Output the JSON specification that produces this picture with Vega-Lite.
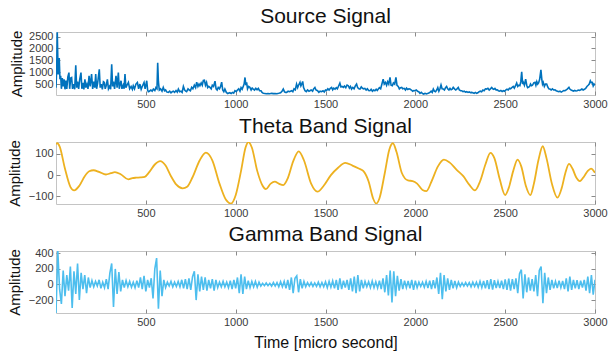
{
"$schema":"https://vega.github.io/schema/vega-lite/v6.json",
"padding":{"left":6,"top":5,"right":0,"bottom":4},
"background":"white",
"spacing":47,
"bounds":"flush",
"config":{
 "view":{"stroke":"#c4c4c4","strokeWidth":1},
 "axis":{"labelFont":"Liberation Sans","labelFontSize":11,"labelColor":"#3a3a3a","tickColor":"#8a8a8a","tickSize":-4,"labelPadding":7,"domain":false,"grid":false,"titleFont":"Liberation Sans","titleFontWeight":"normal","titleFontSize":15,"titleColor":"#111111","labelFlush":false,"labelOverlap":false,"labelBound":false,"format":"d"},
 "title":{"font":"Liberation Sans","fontSize":21,"fontWeight":"normal","color":"#111111","frame":"group","offset":2}
},
"datasets":{
"src":[{"t":0,"v":350},{"t":4,"v":1200},{"t":7,"v":2680},{"t":12,"v":900},{"t":18,"v":1600},{"t":22,"v":700},{"t":26,"v":850},{"t":30,"v":300},{"t":35,"v":750},{"t":40,"v":400},{"t":45,"v":700},{"t":50,"v":280},{"t":55,"v":650},{"t":60,"v":300},{"t":66,"v":800},{"t":72,"v":980},{"t":76,"v":300},{"t":82,"v":760},{"t":87,"v":780},{"t":92,"v":300},{"t":98,"v":500},{"t":104,"v":280},{"t":110,"v":1290},{"t":115,"v":350},{"t":120,"v":600},{"t":126,"v":300},{"t":132,"v":700},{"t":139,"v":980},{"t":144,"v":300},{"t":150,"v":550},{"t":155,"v":280},{"t":161,"v":700},{"t":166,"v":350},{"t":172,"v":500},{"t":178,"v":300},{"t":184,"v":850},{"t":190,"v":400},{"t":198,"v":920},{"t":204,"v":300},{"t":210,"v":600},{"t":216,"v":350},{"t":221,"v":920},{"t":226,"v":300},{"t":232,"v":550},{"t":241,"v":1120},{"t":246,"v":350},{"t":252,"v":500},{"t":258,"v":280},{"t":264,"v":600},{"t":269,"v":570},{"t":274,"v":300},{"t":280,"v":450},{"t":286,"v":700},{"t":292,"v":300},{"t":298,"v":400},{"t":304,"v":280},{"t":310,"v":1330},{"t":315,"v":400},{"t":320,"v":600},{"t":326,"v":300},{"t":334,"v":850},{"t":340,"v":350},{"t":347,"v":980},{"t":352,"v":300},{"t":357,"v":500},{"t":362,"v":640},{"t":367,"v":300},{"t":374,"v":450},{"t":379,"v":300},{"t":384,"v":920},{"t":389,"v":350},{"t":395,"v":450},{"t":403,"v":570},{"t":410,"v":300},{"t":418,"v":400},{"t":425,"v":280},{"t":430,"v":430},{"t":437,"v":300},{"t":445,"v":500},{"t":453,"v":570},{"t":460,"v":300},{"t":467,"v":500},{"t":474,"v":280},{"t":480,"v":400},{"t":490,"v":570},{"t":496,"v":300},{"t":505,"v":640},{"t":510,"v":250},{"t":514,"v":180},{"t":520,"v":200},{"t":528,"v":250},{"t":535,"v":200},{"t":542,"v":290},{"t":550,"v":230},{"t":556,"v":350},{"t":562,"v":300},{"t":566,"v":1400},{"t":570,"v":600},{"t":575,"v":250},{"t":582,"v":300},{"t":590,"v":200},{"t":597,"v":360},{"t":604,"v":220},{"t":610,"v":250},{"t":616,"v":170},{"t":625,"v":150},{"t":633,"v":200},{"t":640,"v":130},{"t":647,"v":180},{"t":653,"v":200},{"t":660,"v":150},{"t":668,"v":230},{"t":675,"v":160},{"t":681,"v":290},{"t":688,"v":180},{"t":695,"v":200},{"t":702,"v":150},{"t":709,"v":400},{"t":716,"v":250},{"t":722,"v":200},{"t":727,"v":180},{"t":735,"v":300},{"t":742,"v":250},{"t":748,"v":220},{"t":755,"v":360},{"t":762,"v":300},{"t":770,"v":450},{"t":777,"v":350},{"t":783,"v":580},{"t":790,"v":400},{"t":796,"v":500},{"t":801,"v":430},{"t":808,"v":550},{"t":814,"v":450},{"t":820,"v":650},{"t":826,"v":660},{"t":832,"v":450},{"t":838,"v":570},{"t":844,"v":350},{"t":850,"v":400},{"t":857,"v":360},{"t":864,"v":300},{"t":870,"v":450},{"t":877,"v":400},{"t":885,"v":625},{"t":891,"v":300},{"t":897,"v":250},{"t":903,"v":360},{"t":910,"v":300},{"t":916,"v":400},{"t":922,"v":580},{"t":928,"v":250},{"t":934,"v":180},{"t":940,"v":290},{"t":948,"v":150},{"t":956,"v":100},{"t":962,"v":120},{"t":968,"v":135},{"t":975,"v":100},{"t":982,"v":150},{"t":989,"v":120},{"t":996,"v":220},{"t":1003,"v":180},{"t":1010,"v":250},{"t":1017,"v":300},{"t":1024,"v":200},{"t":1030,"v":350},{"t":1036,"v":280},{"t":1042,"v":400},{"t":1047,"v":500},{"t":1052,"v":777},{"t":1057,"v":450},{"t":1061,"v":570},{"t":1066,"v":300},{"t":1072,"v":400},{"t":1079,"v":360},{"t":1086,"v":250},{"t":1092,"v":330},{"t":1098,"v":290},{"t":1105,"v":250},{"t":1112,"v":320},{"t":1119,"v":260},{"t":1126,"v":320},{"t":1133,"v":220},{"t":1141,"v":220},{"t":1147,"v":150},{"t":1154,"v":110},{"t":1162,"v":100},{"t":1170,"v":90},{"t":1180,"v":100},{"t":1190,"v":95},{"t":1200,"v":110},{"t":1210,"v":100},{"t":1220,"v":105},{"t":1230,"v":95},{"t":1240,"v":110},{"t":1250,"v":130},{"t":1258,"v":200},{"t":1265,"v":290},{"t":1272,"v":170},{"t":1278,"v":150},{"t":1284,"v":150},{"t":1292,"v":200},{"t":1300,"v":180},{"t":1311,"v":220},{"t":1318,"v":180},{"t":1325,"v":300},{"t":1332,"v":260},{"t":1339,"v":500},{"t":1345,"v":350},{"t":1350,"v":450},{"t":1358,"v":570},{"t":1363,"v":420},{"t":1368,"v":500},{"t":1373,"v":610},{"t":1378,"v":350},{"t":1386,"v":220},{"t":1393,"v":180},{"t":1400,"v":250},{"t":1408,"v":200},{"t":1413,"v":220},{"t":1420,"v":250},{"t":1428,"v":200},{"t":1434,"v":300},{"t":1441,"v":360},{"t":1447,"v":250},{"t":1456,"v":220},{"t":1463,"v":150},{"t":1470,"v":200},{"t":1478,"v":180},{"t":1486,"v":220},{"t":1493,"v":170},{"t":1500,"v":250},{"t":1506,"v":230},{"t":1513,"v":300},{"t":1520,"v":250},{"t":1527,"v":320},{"t":1534,"v":360},{"t":1540,"v":260},{"t":1546,"v":330},{"t":1553,"v":290},{"t":1560,"v":350},{"t":1566,"v":300},{"t":1573,"v":420},{"t":1580,"v":540},{"t":1586,"v":380},{"t":1592,"v":400},{"t":1599,"v":360},{"t":1606,"v":420},{"t":1613,"v":350},{"t":1620,"v":460},{"t":1627,"v":430},{"t":1633,"v":330},{"t":1639,"v":400},{"t":1645,"v":290},{"t":1652,"v":360},{"t":1659,"v":300},{"t":1666,"v":420},{"t":1673,"v":500},{"t":1679,"v":350},{"t":1686,"v":300},{"t":1692,"v":290},{"t":1699,"v":380},{"t":1706,"v":320},{"t":1712,"v":300},{"t":1719,"v":320},{"t":1726,"v":250},{"t":1733,"v":300},{"t":1740,"v":230},{"t":1747,"v":220},{"t":1754,"v":280},{"t":1761,"v":200},{"t":1768,"v":250},{"t":1775,"v":220},{"t":1782,"v":280},{"t":1788,"v":230},{"t":1794,"v":290},{"t":1800,"v":350},{"t":1807,"v":300},{"t":1814,"v":500},{"t":1821,"v":707},{"t":1827,"v":500},{"t":1834,"v":570},{"t":1840,"v":450},{"t":1846,"v":600},{"t":1852,"v":500},{"t":1859,"v":777},{"t":1865,"v":450},{"t":1872,"v":430},{"t":1878,"v":550},{"t":1885,"v":500},{"t":1892,"v":777},{"t":1898,"v":450},{"t":1905,"v":400},{"t":1911,"v":300},{"t":1918,"v":350},{"t":1924,"v":360},{"t":1930,"v":300},{"t":1938,"v":320},{"t":1945,"v":250},{"t":1951,"v":330},{"t":1958,"v":270},{"t":1964,"v":300},{"t":1970,"v":290},{"t":1978,"v":250},{"t":1985,"v":200},{"t":1992,"v":230},{"t":1998,"v":220},{"t":2005,"v":250},{"t":2012,"v":200},{"t":2019,"v":180},{"t":2026,"v":110},{"t":2033,"v":150},{"t":2040,"v":100},{"t":2047,"v":80},{"t":2054,"v":110},{"t":2061,"v":90},{"t":2068,"v":100},{"t":2075,"v":120},{"t":2081,"v":150},{"t":2088,"v":200},{"t":2094,"v":150},{"t":2100,"v":290},{"t":2106,"v":200},{"t":2112,"v":180},{"t":2119,"v":250},{"t":2125,"v":350},{"t":2131,"v":200},{"t":2137,"v":300},{"t":2143,"v":460},{"t":2149,"v":300},{"t":2156,"v":290},{"t":2162,"v":250},{"t":2168,"v":350},{"t":2174,"v":400},{"t":2180,"v":300},{"t":2187,"v":250},{"t":2193,"v":320},{"t":2199,"v":260},{"t":2205,"v":290},{"t":2211,"v":360},{"t":2218,"v":300},{"t":2225,"v":250},{"t":2232,"v":300},{"t":2239,"v":360},{"t":2245,"v":250},{"t":2252,"v":220},{"t":2258,"v":220},{"t":2265,"v":180},{"t":2272,"v":200},{"t":2279,"v":160},{"t":2286,"v":180},{"t":2293,"v":150},{"t":2300,"v":170},{"t":2307,"v":140},{"t":2313,"v":150},{"t":2320,"v":130},{"t":2327,"v":110},{"t":2334,"v":150},{"t":2341,"v":110},{"t":2348,"v":130},{"t":2355,"v":180},{"t":2362,"v":200},{"t":2369,"v":180},{"t":2376,"v":250},{"t":2383,"v":220},{"t":2390,"v":300},{"t":2397,"v":290},{"t":2404,"v":320},{"t":2411,"v":250},{"t":2418,"v":300},{"t":2425,"v":360},{"t":2431,"v":300},{"t":2437,"v":280},{"t":2443,"v":320},{"t":2450,"v":250},{"t":2456,"v":260},{"t":2462,"v":220},{"t":2469,"v":200},{"t":2476,"v":230},{"t":2483,"v":190},{"t":2490,"v":220},{"t":2497,"v":200},{"t":2503,"v":250},{"t":2510,"v":280},{"t":2517,"v":250},{"t":2524,"v":320},{"t":2530,"v":300},{"t":2537,"v":350},{"t":2545,"v":400},{"t":2551,"v":330},{"t":2557,"v":420},{"t":2564,"v":540},{"t":2570,"v":400},{"t":2576,"v":450},{"t":2582,"v":430},{"t":2587,"v":600},{"t":2592,"v":1013},{"t":2597,"v":500},{"t":2601,"v":570},{"t":2607,"v":450},{"t":2614,"v":707},{"t":2620,"v":450},{"t":2625,"v":350},{"t":2629,"v":360},{"t":2636,"v":400},{"t":2641,"v":500},{"t":2647,"v":430},{"t":2652,"v":450},{"t":2659,"v":550},{"t":2666,"v":570},{"t":2671,"v":450},{"t":2676,"v":600},{"t":2681,"v":500},{"t":2686,"v":550},{"t":2692,"v":700},{"t":2699,"v":1096},{"t":2704,"v":700},{"t":2708,"v":500},{"t":2712,"v":570},{"t":2718,"v":400},{"t":2724,"v":500},{"t":2731,"v":500},{"t":2737,"v":380},{"t":2743,"v":300},{"t":2749,"v":290},{"t":2756,"v":250},{"t":2763,"v":300},{"t":2770,"v":250},{"t":2777,"v":260},{"t":2784,"v":220},{"t":2791,"v":200},{"t":2798,"v":180},{"t":2805,"v":200},{"t":2812,"v":160},{"t":2819,"v":190},{"t":2826,"v":230},{"t":2833,"v":220},{"t":2840,"v":260},{"t":2847,"v":300},{"t":2855,"v":360},{"t":2861,"v":280},{"t":2867,"v":250},{"t":2873,"v":230},{"t":2880,"v":200},{"t":2887,"v":230},{"t":2894,"v":210},{"t":2900,"v":220},{"t":2907,"v":250},{"t":2914,"v":230},{"t":2921,"v":260},{"t":2927,"v":290},{"t":2934,"v":250},{"t":2941,"v":280},{"t":2948,"v":320},{"t":2955,"v":400},{"t":2962,"v":450},{"t":2968,"v":500},{"t":2974,"v":638},{"t":2979,"v":560},{"t":2985,"v":570},{"t":2990,"v":420},{"t":2995,"v":500},{"t":3000,"v":450}],
"theta":[{"t":0,"v":147},{"t":8,"v":150},{"t":20,"v":135},{"t":50,"v":30},{"t":80,"v":-55},{"t":101,"v":-72},{"t":130,"v":-50},{"t":160,"v":-5},{"t":185,"v":18},{"t":209,"v":23},{"t":240,"v":15},{"t":278,"v":3},{"t":305,"v":9},{"t":328,"v":14},{"t":360,"v":4},{"t":403,"v":-20},{"t":425,"v":-14},{"t":446,"v":-12},{"t":470,"v":-11},{"t":494,"v":-8},{"t":520,"v":15},{"t":550,"v":50},{"t":580,"v":66},{"t":610,"v":45},{"t":640,"v":-5},{"t":670,"v":-45},{"t":705,"v":-62},{"t":730,"v":-55},{"t":760,"v":-10},{"t":800,"v":70},{"t":834,"v":106},{"t":870,"v":70},{"t":910,"v":-40},{"t":945,"v":-115},{"t":974,"v":-134},{"t":1000,"v":-95},{"t":1030,"v":20},{"t":1055,"v":130},{"t":1071,"v":156},{"t":1090,"v":130},{"t":1120,"v":20},{"t":1150,"v":-50},{"t":1168,"v":-66},{"t":1195,"v":-40},{"t":1218,"v":-31},{"t":1240,"v":-40},{"t":1265,"v":-47},{"t":1290,"v":-15},{"t":1320,"v":65},{"t":1351,"v":112},{"t":1380,"v":70},{"t":1420,"v":-40},{"t":1455,"v":-78},{"t":1490,"v":-50},{"t":1530,"v":0},{"t":1570,"v":35},{"t":1610,"v":58},{"t":1650,"v":45},{"t":1685,"v":31},{"t":1710,"v":20},{"t":1740,"v":-30},{"t":1765,"v":-110},{"t":1782,"v":-134},{"t":1800,"v":-110},{"t":1830,"v":10},{"t":1855,"v":120},{"t":1875,"v":150},{"t":1895,"v":110},{"t":1925,"v":10},{"t":1959,"v":-25},{"t":1985,"v":-28},{"t":2010,"v":-40},{"t":2040,"v":-70},{"t":2062,"v":-75},{"t":2090,"v":-30},{"t":2125,"v":40},{"t":2159,"v":73},{"t":2190,"v":60},{"t":2230,"v":25},{"t":2267,"v":-5},{"t":2300,"v":-45},{"t":2332,"v":-72},{"t":2360,"v":-30},{"t":2390,"v":50},{"t":2418,"v":105},{"t":2440,"v":80},{"t":2470,"v":-20},{"t":2500,"v":-94},{"t":2520,"v":-60},{"t":2545,"v":20},{"t":2569,"v":73},{"t":2590,"v":40},{"t":2615,"v":-50},{"t":2640,"v":-94},{"t":2660,"v":-40},{"t":2685,"v":70},{"t":2709,"v":136},{"t":2730,"v":80},{"t":2760,"v":-40},{"t":2791,"v":-106},{"t":2815,"v":-60},{"t":2835,"v":10},{"t":2855,"v":53},{"t":2875,"v":30},{"t":2895,"v":-10},{"t":2916,"v":-28},{"t":2940,"v":-5},{"t":2960,"v":20},{"t":2978,"v":31},{"t":3000,"v":11}],
"gamma":[{"t":0,"v":-366},{"t":10,"v":430},{"t":20,"v":-60},{"t":30,"v":-250},{"t":40,"v":180},{"t":50,"v":-150},{"t":60,"v":120},{"t":70,"v":-80},{"t":80,"v":230},{"t":90,"v":-300},{"t":100,"v":170},{"t":110,"v":-120},{"t":120,"v":270},{"t":130,"v":-200},{"t":140,"v":150},{"t":150,"v":-60},{"t":160,"v":120},{"t":170,"v":-110},{"t":180,"v":90},{"t":190,"v":-40},{"t":200,"v":50},{"t":210,"v":-30},{"t":220,"v":40},{"t":230,"v":-20},{"t":240,"v":60},{"t":250,"v":-50},{"t":260,"v":30},{"t":270,"v":-40},{"t":280,"v":70},{"t":290,"v":-60},{"t":300,"v":150},{"t":310,"v":270},{"t":320,"v":-290},{"t":330,"v":200},{"t":340,"v":-120},{"t":350,"v":160},{"t":360,"v":-90},{"t":370,"v":60},{"t":380,"v":-40},{"t":390,"v":50},{"t":400,"v":-30},{"t":410,"v":40},{"t":420,"v":-35},{"t":430,"v":30},{"t":440,"v":-40},{"t":450,"v":50},{"t":460,"v":-40},{"t":470,"v":90},{"t":480,"v":-60},{"t":490,"v":110},{"t":500,"v":-90},{"t":510,"v":60},{"t":520,"v":-40},{"t":530,"v":80},{"t":540,"v":-180},{"t":550,"v":200},{"t":560,"v":340},{"t":570,"v":-310},{"t":580,"v":180},{"t":590,"v":-150},{"t":600,"v":60},{"t":610,"v":-40},{"t":620,"v":30},{"t":630,"v":-20},{"t":640,"v":40},{"t":650,"v":-30},{"t":660,"v":30},{"t":670,"v":-25},{"t":680,"v":40},{"t":690,"v":-30},{"t":700,"v":60},{"t":710,"v":-50},{"t":720,"v":70},{"t":730,"v":-60},{"t":740,"v":80},{"t":750,"v":-70},{"t":760,"v":100},{"t":770,"v":170},{"t":780,"v":-200},{"t":790,"v":130},{"t":800,"v":-90},{"t":810,"v":100},{"t":820,"v":-70},{"t":830,"v":90},{"t":840,"v":-80},{"t":850,"v":60},{"t":860,"v":-50},{"t":870,"v":70},{"t":880,"v":-80},{"t":890,"v":60},{"t":900,"v":-40},{"t":910,"v":30},{"t":920,"v":-30},{"t":930,"v":40},{"t":940,"v":-30},{"t":950,"v":30},{"t":960,"v":-40},{"t":970,"v":50},{"t":980,"v":-60},{"t":990,"v":60},{"t":1000,"v":-50},{"t":1010,"v":90},{"t":1020,"v":-110},{"t":1030,"v":130},{"t":1040,"v":-120},{"t":1050,"v":100},{"t":1060,"v":-60},{"t":1070,"v":50},{"t":1080,"v":-40},{"t":1090,"v":40},{"t":1100,"v":-30},{"t":1110,"v":40},{"t":1120,"v":-35},{"t":1130,"v":30},{"t":1140,"v":-20},{"t":1150,"v":15},{"t":1160,"v":-15},{"t":1170,"v":20},{"t":1180,"v":-15},{"t":1190,"v":15},{"t":1200,"v":-20},{"t":1210,"v":25},{"t":1220,"v":-20},{"t":1230,"v":25},{"t":1240,"v":-30},{"t":1250,"v":35},{"t":1260,"v":-30},{"t":1270,"v":40},{"t":1280,"v":-50},{"t":1290,"v":60},{"t":1300,"v":-70},{"t":1310,"v":90},{"t":1320,"v":-110},{"t":1330,"v":80},{"t":1340,"v":110},{"t":1350,"v":-100},{"t":1360,"v":70},{"t":1370,"v":-50},{"t":1380,"v":40},{"t":1390,"v":-30},{"t":1400,"v":25},{"t":1410,"v":-20},{"t":1420,"v":25},{"t":1430,"v":-25},{"t":1440,"v":20},{"t":1450,"v":-25},{"t":1460,"v":30},{"t":1470,"v":-30},{"t":1480,"v":25},{"t":1490,"v":-30},{"t":1500,"v":35},{"t":1510,"v":-40},{"t":1520,"v":40},{"t":1530,"v":-35},{"t":1540,"v":45},{"t":1550,"v":-50},{"t":1560,"v":60},{"t":1570,"v":-70},{"t":1580,"v":80},{"t":1590,"v":-60},{"t":1600,"v":50},{"t":1610,"v":-40},{"t":1620,"v":60},{"t":1630,"v":-70},{"t":1640,"v":80},{"t":1650,"v":-90},{"t":1660,"v":100},{"t":1670,"v":-110},{"t":1680,"v":120},{"t":1690,"v":-90},{"t":1700,"v":60},{"t":1710,"v":-50},{"t":1720,"v":40},{"t":1730,"v":-30},{"t":1740,"v":35},{"t":1750,"v":-40},{"t":1760,"v":45},{"t":1770,"v":-40},{"t":1780,"v":35},{"t":1790,"v":-45},{"t":1800,"v":50},{"t":1810,"v":-60},{"t":1820,"v":80},{"t":1830,"v":-100},{"t":1840,"v":120},{"t":1850,"v":-140},{"t":1860,"v":180},{"t":1870,"v":-230},{"t":1880,"v":170},{"t":1890,"v":-150},{"t":1900,"v":110},{"t":1910,"v":-80},{"t":1920,"v":70},{"t":1930,"v":-60},{"t":1940,"v":50},{"t":1950,"v":-40},{"t":1960,"v":45},{"t":1970,"v":-50},{"t":1980,"v":60},{"t":1990,"v":-70},{"t":2000,"v":50},{"t":2010,"v":-40},{"t":2020,"v":30},{"t":2030,"v":-25},{"t":2040,"v":30},{"t":2050,"v":-35},{"t":2060,"v":40},{"t":2070,"v":-45},{"t":2080,"v":50},{"t":2090,"v":-60},{"t":2100,"v":55},{"t":2110,"v":-50},{"t":2120,"v":90},{"t":2130,"v":-120},{"t":2140,"v":150},{"t":2150,"v":-190},{"t":2160,"v":120},{"t":2170,"v":-90},{"t":2180,"v":80},{"t":2190,"v":-70},{"t":2200,"v":60},{"t":2210,"v":-50},{"t":2220,"v":45},{"t":2230,"v":-40},{"t":2240,"v":30},{"t":2250,"v":-25},{"t":2260,"v":20},{"t":2270,"v":-20},{"t":2280,"v":25},{"t":2290,"v":-20},{"t":2300,"v":25},{"t":2310,"v":-30},{"t":2320,"v":30},{"t":2330,"v":-25},{"t":2340,"v":30},{"t":2350,"v":-35},{"t":2360,"v":40},{"t":2370,"v":-40},{"t":2380,"v":45},{"t":2390,"v":-50},{"t":2400,"v":55},{"t":2410,"v":-60},{"t":2420,"v":70},{"t":2430,"v":-65},{"t":2440,"v":55},{"t":2450,"v":-45},{"t":2460,"v":40},{"t":2470,"v":-45},{"t":2480,"v":50},{"t":2490,"v":-60},{"t":2500,"v":65},{"t":2510,"v":-70},{"t":2520,"v":75},{"t":2530,"v":-80},{"t":2540,"v":70},{"t":2550,"v":-60},{"t":2560,"v":80},{"t":2570,"v":-110},{"t":2580,"v":140},{"t":2590,"v":190},{"t":2600,"v":-180},{"t":2610,"v":130},{"t":2620,"v":-100},{"t":2630,"v":90},{"t":2640,"v":-80},{"t":2650,"v":70},{"t":2660,"v":-90},{"t":2670,"v":120},{"t":2680,"v":-150},{"t":2690,"v":180},{"t":2700,"v":230},{"t":2710,"v":-240},{"t":2720,"v":150},{"t":2730,"v":-110},{"t":2740,"v":90},{"t":2750,"v":-70},{"t":2760,"v":60},{"t":2770,"v":-50},{"t":2780,"v":40},{"t":2790,"v":-45},{"t":2800,"v":50},{"t":2810,"v":-40},{"t":2820,"v":45},{"t":2830,"v":-60},{"t":2840,"v":80},{"t":2850,"v":-90},{"t":2860,"v":100},{"t":2870,"v":-70},{"t":2880,"v":60},{"t":2890,"v":-50},{"t":2900,"v":55},{"t":2910,"v":-60},{"t":2920,"v":50},{"t":2930,"v":-40},{"t":2940,"v":60},{"t":2950,"v":-80},{"t":2960,"v":100},{"t":2970,"v":-110},{"t":2980,"v":120},{"t":2990,"v":-130},{"t":3000,"v":60}]
},
"vconcat":[
 {"title":"Source Signal","width":539,"height":63,"data":{"name":"src"},
  "layer":[
   {"mark":{"type":"line","color":"#0072BD","strokeWidth":1.6,"clip":true},
    "encoding":{
     "x":{"field":"t","type":"quantitative","scale":{"domain":[0,3000],"nice":false},"axis":{"orient":"bottom","values":[500,1000,1500,2000,2500,3000],"title":null}},
     "y":{"field":"v","type":"quantitative","scale":{"domain":[40,2690],"nice":false,"zero":false},"axis":{"orient":"left","values":[500,1000,1500,2000,2500],"title":"Amplitude","titlePadding":4}}}},
   {"mark":{"type":"point","opacity":0},
    "encoding":{
     "x":{"field":"t","type":"quantitative","axis":{"orient":"top","labels":false,"values":[500,1000,1500,2000,2500,3000],"title":null}},
     "y":{"field":"v","type":"quantitative","axis":{"orient":"right","labels":false,"values":[500,1000,1500,2000,2500],"title":null}}}}
  ]},
 {"title":"Theta Band Signal","width":539,"height":62,"data":{"name":"theta"},
  "layer":[
   {"mark":{"type":"line","color":"#EDB120","strokeWidth":1.8,"interpolate":"monotone","clip":true},
    "encoding":{
     "x":{"field":"t","type":"quantitative","scale":{"domain":[0,3000],"nice":false},"axis":{"orient":"bottom","values":[500,1000,1500,2000,2500,3000],"title":null}},
     "y":{"field":"v","type":"quantitative","scale":{"domain":[-136,156],"nice":false,"zero":false},"axis":{"orient":"left","values":[-100,0,100],"title":"Amplitude","titlePadding":6}}}},
   {"mark":{"type":"point","opacity":0},
    "encoding":{
     "x":{"field":"t","type":"quantitative","axis":{"orient":"top","labels":false,"values":[500,1000,1500,2000,2500,3000],"title":null}},
     "y":{"field":"v","type":"quantitative","axis":{"orient":"right","labels":false,"values":[-100,0,100],"title":null}}}}
  ]},
 {"title":"Gamma Band Signal","width":539,"height":62,"data":{"name":"gamma"},
  "layer":[
   {"mark":{"type":"line","color":"#4DBEEE","strokeWidth":1.6,"clip":true},
    "encoding":{
     "x":{"field":"t","type":"quantitative","scale":{"domain":[0,3000],"nice":false},"axis":{"orient":"bottom","values":[500,1000,1500,2000,2500,3000],"title":"Time [micro second]","titlePadding":7,"titleFontSize":16}},
     "y":{"field":"v","type":"quantitative","scale":{"domain":[-366,430],"nice":false,"zero":false},"axis":{"orient":"left","values":[-200,0,200,400],"title":"Amplitude","titlePadding":6}}}},
   {"mark":{"type":"point","opacity":0},
    "encoding":{
     "x":{"field":"t","type":"quantitative","axis":{"orient":"top","labels":false,"values":[500,1000,1500,2000,2500,3000],"title":null}},
     "y":{"field":"v","type":"quantitative","axis":{"orient":"right","labels":false,"values":[-200,0,200,400],"title":null}}}}
  ]}
]
}
